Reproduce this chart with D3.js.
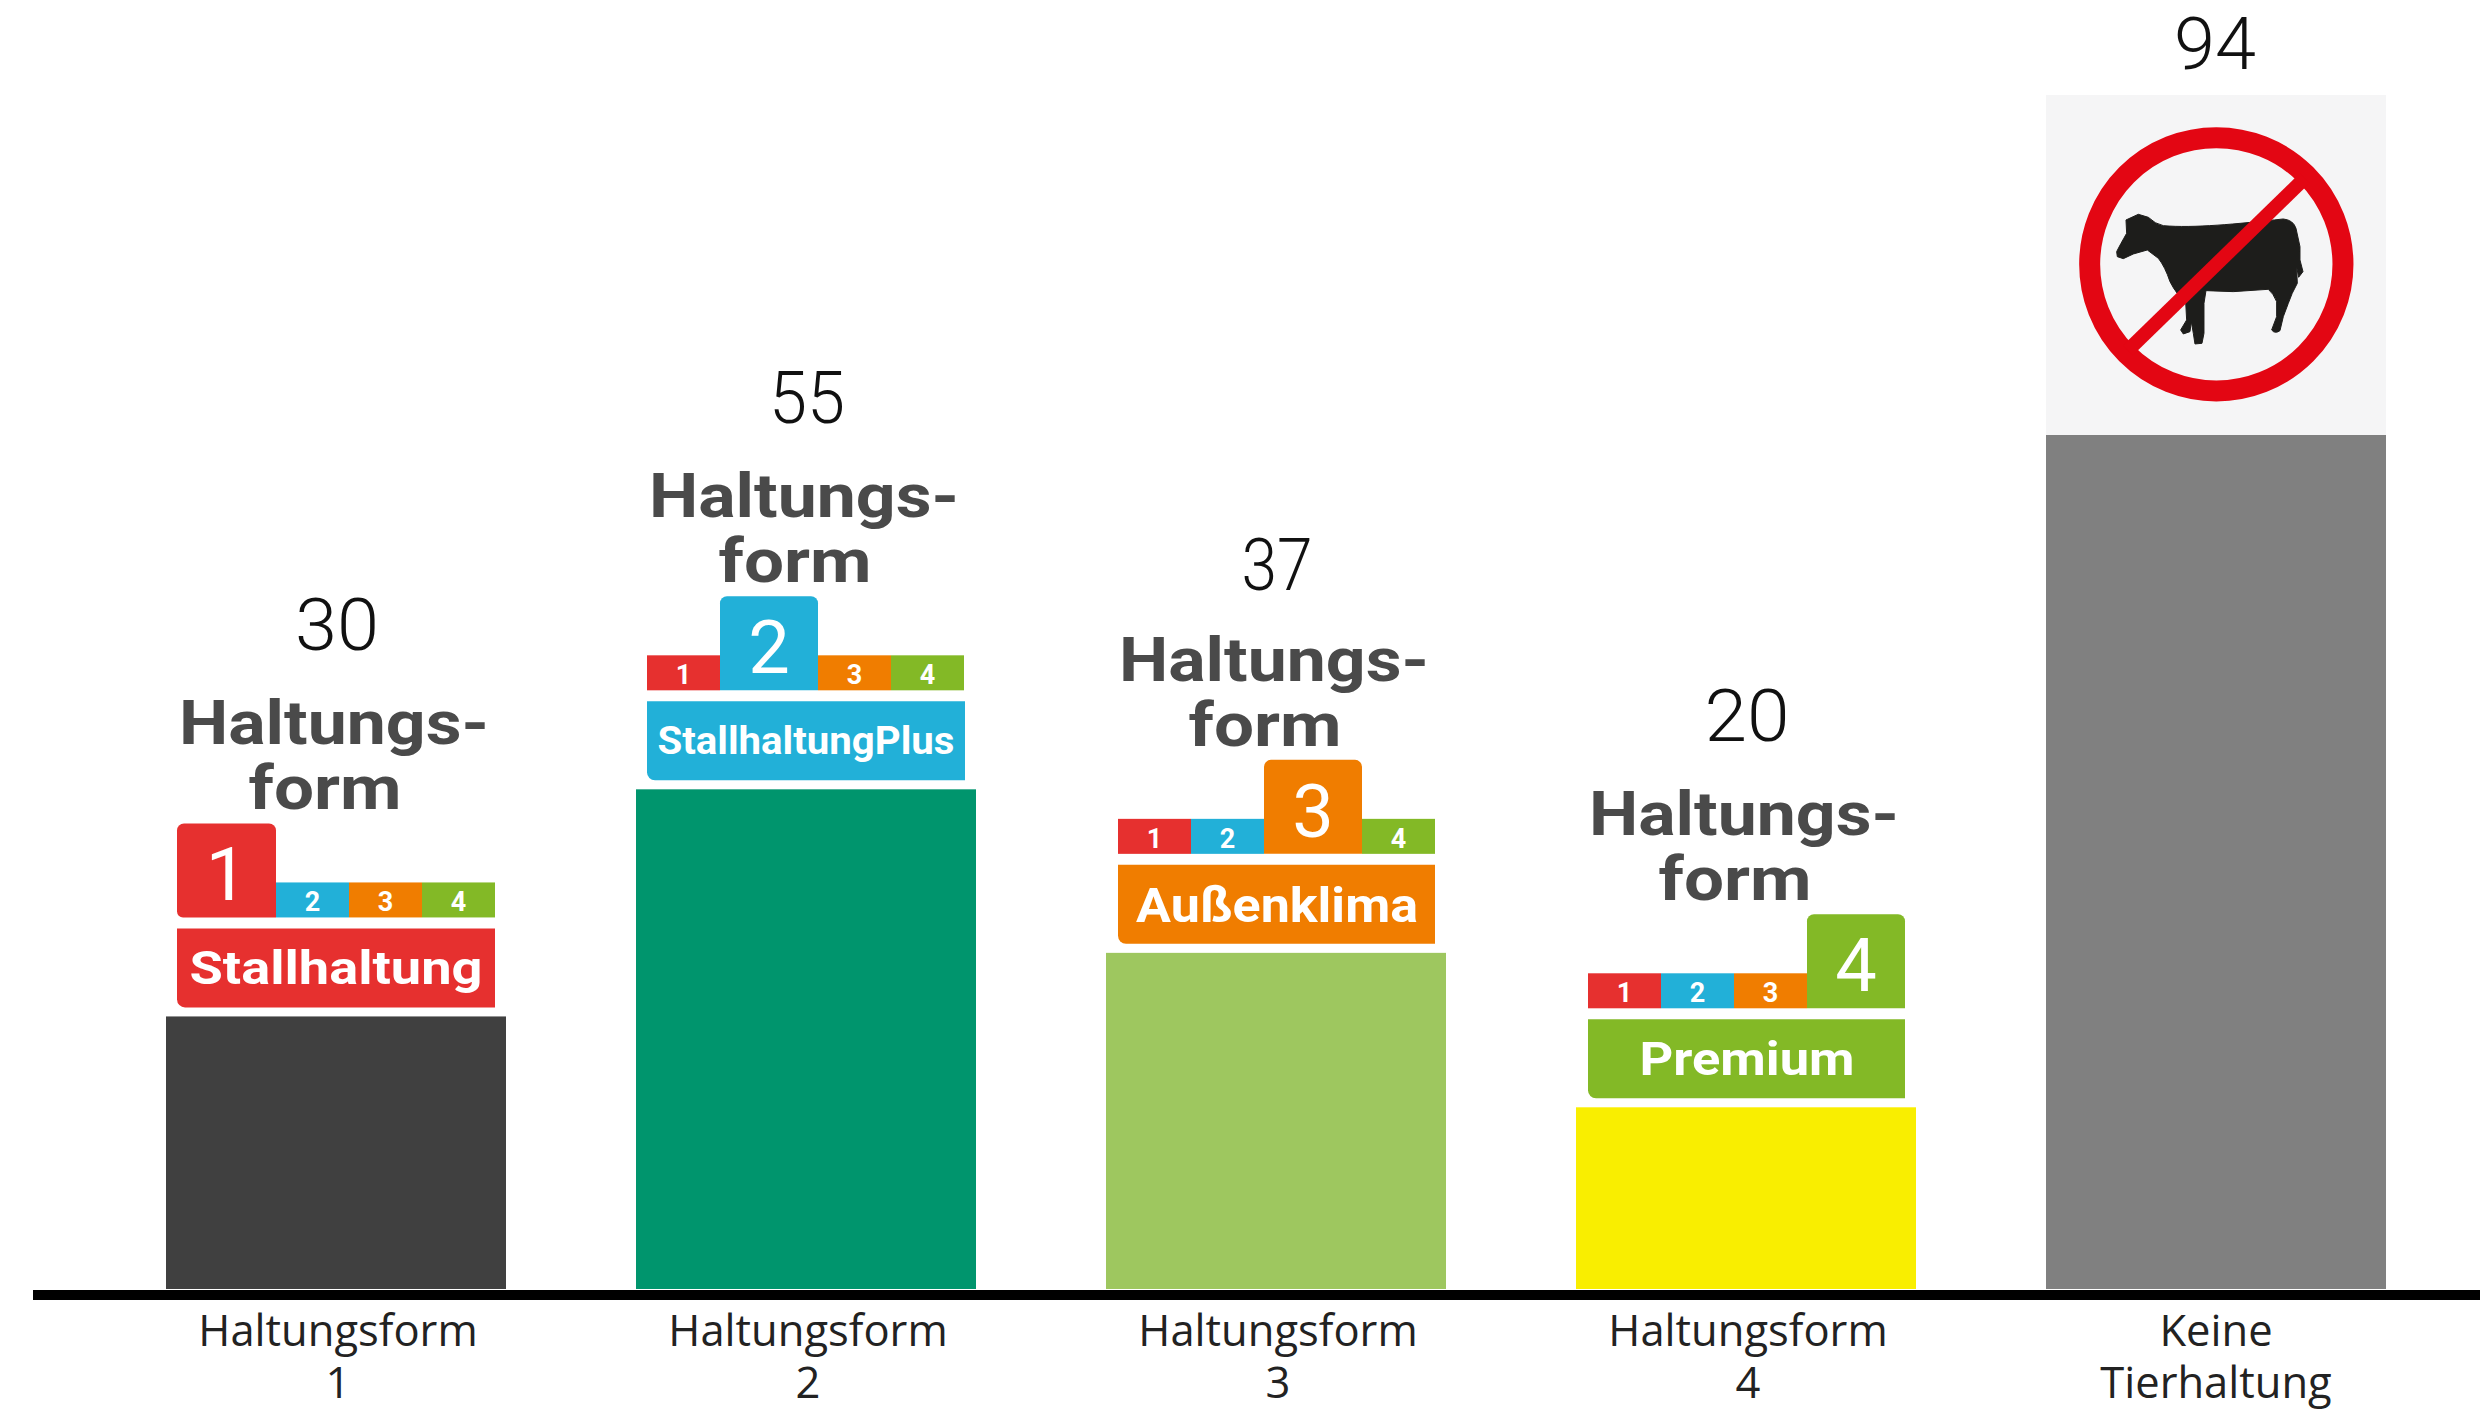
<!DOCTYPE html>
<html><head><meta charset="utf-8">
<script src="https://cdn.jsdelivr.net/npm/d3@7/dist/d3.min.js"></script>
<style>html,body{margin:0;padding:0;background:#fff}svg{display:block}</style>
</head><body><svg id="c" width="2480" height="1411"></svg>
<script>
const categories = ["Haltungsform 1","Haltungsform 2","Haltungsform 3","Haltungsform 4","Keine Tierhaltung"];
const values = [30,55,37,20,94];
const barColors = ["#404040","#00956d","#9ec75f","#f9ee00","#808080"];
const axisLines = [["Haltungsform","1"],["Haltungsform","2"],["Haltungsform","3"],["Haltungsform","4"],["Keine","Tierhaltung"]];
const badgeNames = ["Stallhaltung","StallhaltungPlus","Außenklima","Premium"];
const badgeColors = ["#e6302f","#22b0d8","#f07d00","#83b926"];
const nameFont = [{s:46,w:293,b:32},{s:38,w:297,b:35},{s:49,w:282,b:31},{s:47,w:215,b:32}];
const valueWidth = [84,76,71,85,82];
const valueLift = [366,366,363,366,366];

const svg = d3.select("#c");
const F = "Roboto, sans-serif";
const x = d3.scaleBand().domain(categories).range([166,2386]).paddingInner(130/470).paddingOuter(0);
const y = d3.scaleLinear().domain([0,94]).range([1289,435]);
const bw = x.bandwidth();

function rr(x0,y0,w,h,[tl,tr,br,bl]){
  const p = d3.path();
  p.moveTo(x0+tl,y0); p.lineTo(x0+w-tr,y0);
  if(tr) p.arcTo(x0+w,y0,x0+w,y0+tr,tr);
  p.lineTo(x0+w,y0+h-br);
  if(br) p.arcTo(x0+w,y0+h,x0+w-br,y0+h,br);
  p.lineTo(x0+bl,y0+h);
  if(bl) p.arcTo(x0,y0+h,x0,y0+h-bl,bl);
  p.lineTo(x0,y0+tl);
  if(tl) p.arcTo(x0,y0,x0+tl,y0,tl);
  p.closePath(); return p.toString();
}

svg.selectAll("rect.bar").data(categories).join("rect").attr("class","bar")
  .attr("x",d=>x(d)).attr("width",bw)
  .attr("y",(d,i)=>y(values[i])).attr("height",(d,i)=>y(0)-y(values[i]))
  .attr("fill",(d,i)=>barColors[i]);

svg.selectAll("text.val").data(categories).join("text").attr("class","val")
  .attr("x",(d,i)=>x(d)+bw/2+(i===4?-1:1)).attr("y",(d,i)=>y(values[i])-valueLift[i])
  .attr("text-anchor","middle").attr("font-family",F).attr("font-weight",300)
  .attr("font-size",73).attr("fill","#111")
  .attr("textLength",(d,i)=>valueWidth[i]).attr("lengthAdjust","spacingAndGlyphs")
  .text((d,i)=>values[i]);

const axis = d3.axisBottom(x).tickSize(0).tickPadding(0).tickFormat("");
const gx = svg.append("g").attr("transform","translate(0,1295)").call(axis);
gx.select(".domain").attr("d","M33,0H2480").attr("stroke","#000").attr("stroke-width",10);
gx.selectAll(".tick").each(function(d,i){
  const t = d3.select(this).select("text").attr("y",0).attr("dy",null)
    .attr("font-family","'Open Sans', sans-serif").attr("font-size",43.5).attr("fill","#222");
  t.selectAll("tspan").data(axisLines[i]).join("tspan").attr("x",i===4?0:2).attr("y",(l,j)=>51+j*52).text(l=>l);
});

badgeNames.forEach((name,i)=>{
  const top = y(values[i]), bx = x(categories[i]);
  const g = svg.append("g").attr("transform",`translate(${bx},${top})`);
  const L = i<2?11:12, bigW = i===0?99:98, cellW = 73;
  g.append("text").attr("x",168).attr("y",-272).attr("text-anchor","middle")
   .attr("font-family",F).attr("font-weight",700).attr("font-size",61).attr("fill","#4a4a4a")
   .attr("textLength",310).attr("lengthAdjust","spacingAndGlyphs").text("Haltungs-");
  g.append("text").attr("x",159).attr("y",-207).attr("text-anchor","middle")
   .attr("font-family",F).attr("font-weight",700).attr("font-size",61).attr("fill","#4a4a4a")
   .attr("textLength",153).attr("lengthAdjust","spacingAndGlyphs").text("form");
  let cx = L;
  badgeColors.forEach((c,k)=>{
    const active = k===i, w = active?bigW:cellW;
    if(active){
      const bl = i===0?6:0;
      g.append("path").attr("d",rr(cx,-193,w,94,[7,7,0,bl])).attr("fill",c);
      g.append("text").attr("x",cx+w/2).attr("y",-116).attr("text-anchor","middle")
       .attr("font-family",F).attr("font-size",74).attr("font-weight",400).attr("fill","#fff").text(k+1);
    } else {
      g.append("rect").attr("x",cx).attr("y",-134).attr("width",w).attr("height",35).attr("fill",c);
      g.append("text").attr("x",cx+w/2).attr("y",-105).attr("text-anchor","middle")
       .attr("font-family",F).attr("font-size",27).attr("font-weight",700).attr("fill","#fff").text(k+1);
    }
    cx += w;
  });
  g.append("path").attr("d",rr(L,-88,318-(L-11),79,[0,0,0,8])).attr("fill",badgeColors[i]);
  const nf = nameFont[i];
  g.append("text").attr("x",L+159).attr("y",-nf.b).attr("text-anchor","middle")
   .attr("font-family",F).attr("font-weight",700).attr("font-size",nf.s).attr("fill","#fff")
   .attr("textLength",nf.w).attr("lengthAdjust","spacingAndGlyphs").text(name);
});

const last = categories[4];
svg.append("rect").attr("x",x(last)).attr("y",95).attr("width",bw).attr("height",y(94)-95).attr("fill","#f5f5f6");
const sign = svg.append("g").attr("transform","translate(2020,0) scale(0.3333)");
sign.append("path").attr("fill","#1d1d1b").attr("stroke","#1d1d1b").attr("stroke-width",3).attr("stroke-linejoin","round").attr("d",
 "M290,755 Q300,735 320,700 L318,660 L355,643 L385,652 Q405,672 430,677 C520,685 650,672 790,657 Q820,660 828,685 L840,740 L840,780 L849,815 L836,832 L830,800 L832,850 Q815,880 805,910 L790,950 L780,992 Q765,1003 755,990 L770,950 L770,905 Q760,880 745,868 L640,875 L558,872 L552,910 L552,1000 L546,1030 L525,1032 L520,1000 L514,965 L510,995 L490,1002 L482,990 L500,960 L497,905 Q470,885 450,845 Q435,800 415,775 L382,750 L340,762 L310,776 L292,770 Z");
sign.append("circle").attr("cx",589).attr("cy",793).attr("r",380).attr("fill","none").attr("stroke","#e30613").attr("stroke-width",63);
sign.append("line").attr("x1",324).attr("y1",1051).attr("x2",854).attr("y2",535).attr("stroke","#e30613").attr("stroke-width",42);
</script></body></html>
